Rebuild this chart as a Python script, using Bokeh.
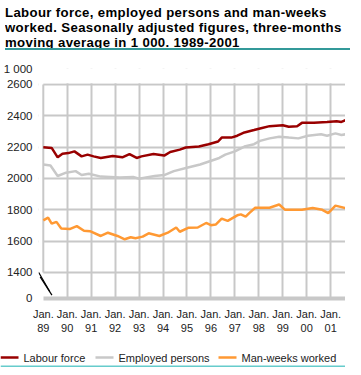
from bokeh.plotting import figure
from bokeh.models import FixedTicker, Div, Range1d
from bokeh.core.properties import value
from bokeh.layouts import column
from bokeh.embed import file_html
from bokeh.resources import INLINE

# ---- data (thousands), x in decimal years ----
lf_x = [1989.0, 1989.35, 1989.6, 1989.8, 1990.05, 1990.3, 1990.6, 1990.85, 1991.1, 1991.4,
        1991.9, 1992.3, 1992.6, 1992.9, 1993.1, 1993.6, 1994.05, 1994.3, 1994.7, 1994.95,
        1995.5, 1995.9, 1996.3, 1996.45, 1996.85, 1997.1, 1997.4, 1997.8, 1998.05, 1998.45,
        1999.0, 1999.25, 1999.6, 1999.8, 2000.3, 2000.85, 2001.25, 2001.45, 2001.62]
lf_y = [2200, 2195, 2135, 2158, 2162, 2173, 2141, 2152, 2141, 2131,
        2143, 2135, 2156, 2131, 2141, 2156, 2146, 2169, 2184, 2198,
        2204, 2219, 2236, 2261, 2261, 2273, 2294, 2309, 2319, 2334,
        2340, 2330, 2334, 2355, 2355, 2361, 2366, 2361, 2372]

ep_x = [1989.0, 1989.3, 1989.6, 1989.95, 1990.35, 1990.6, 1990.9, 1991.4, 1992.2, 1992.75,
        1993.0, 1993.65, 1994.05, 1994.45, 1995.0, 1995.55, 1995.95, 1996.35, 1996.6, 1997.0,
        1997.4, 1997.8, 1998.05, 1998.45, 1998.85, 1999.25, 1999.65, 2000.05, 2000.6, 2000.85,
        2001.2, 2001.45, 2001.62]
ep_y = [2089, 2083, 2016, 2037, 2047, 2022, 2030, 2012, 2006, 2010,
        1998, 2016, 2022, 2047, 2068, 2089, 2110, 2131, 2152, 2173,
        2204, 2219, 2240, 2256, 2267, 2261, 2256, 2273, 2282, 2273,
        2288, 2278, 2282]

mw_x = [1989.0, 1989.2, 1989.35, 1989.55, 1989.75, 1990.1, 1990.4, 1990.7, 1990.95, 1991.4,
        1991.7, 1992.1, 1992.4, 1992.65, 1992.85, 1993.15, 1993.4, 1993.85, 1994.2, 1994.55,
        1994.7, 1995.05, 1995.45, 1995.8, 1996.0, 1996.2, 1996.45, 1996.7, 1997.1, 1997.25,
        1997.45, 1997.6, 1997.85, 1998.45, 1998.85, 1999.1, 1999.8, 2000.25, 2000.65, 2000.9,
        2001.2, 2001.62]
mw_y = [1733, 1750, 1712, 1723, 1681, 1677, 1696, 1666, 1664, 1633,
        1654, 1633, 1612, 1625, 1618, 1629, 1650, 1633, 1654, 1687,
        1660, 1685, 1687, 1716, 1702, 1706, 1744, 1729, 1765, 1771,
        1756, 1779, 1813, 1813, 1834, 1800, 1800, 1811, 1800, 1779,
        1827, 1811]

years = list(range(1989, 2002))
year_labels = ["Jan.\n" + str(y)[2:] for y in years]
grid_ticks = [1400, 1600, 1800, 2000, 2200, 2400, 2600]
zero_pos = 1240          # where the broken axis shows its "0"
unit_pos = 2700          # where the "1 000" unit label sits
series_names = ["Labour force", "Employed persons", "Man-weeks worked"]
series_x = [lf_x, ep_x, mw_x]
series_y = [lf_y, ep_y, mw_y]
colors = ["#990000", "#c8c8c8", "#ff9933"]

title_lines = ["Labour force, employed persons and man-weeks",
               "worked. Seasonally adjusted figures, three-months",
               "moving average in 1 000. 1989-2001"]

FONT = "Liberation Sans"
GRID = "#c8c8c8"
TXT = "#222222"
X0, X1 = 1988.80, 2001.62
Y0, Y1 = 1234, 2702

title_html = ('<div style="font-family:\'Liberation Sans\',Arial,sans-serif;font-weight:bold;'
              'font-size:13.2px;letter-spacing:0.35px;line-height:15px;color:#000;margin:0;'
              'padding:0;width:345px;height:45px;border-bottom:2px solid #339999;'
              'white-space:nowrap;overflow:hidden">'
              + "<br>".join(title_lines) + '</div>')
title = Div(text=title_html, width=345, height=47)

p = figure(width=345, height=288, x_range=Range1d(X0, X1), y_range=Range1d(Y0, Y1),
           output_backend="svg", toolbar_location=None,
           min_border_top=11, min_border_left=0, min_border_right=0, min_border_bottom=47)
p.outline_line_color = None
p.frame_align = False

# y axis: tick labels only (axis line drawn separately because of the break)
p.yaxis.ticker = FixedTicker(ticks=[zero_pos] + grid_ticks + [unit_pos])
p.yaxis.major_label_overrides = {zero_pos: "0", unit_pos: "1 000"}
p.yaxis.axis_line_color = None
p.yaxis.major_tick_line_color = None
p.yaxis.minor_tick_line_color = None
p.yaxis.major_label_standoff = 0
p.yaxis.major_label_text_font = FONT
p.yaxis.major_label_text_font_size = "11.5px"
p.yaxis.major_label_text_color = TXT

p.xaxis.ticker = FixedTicker(ticks=years)
p.xaxis.major_label_overrides = {y: l for y, l in zip(years, year_labels)}
p.xaxis.bounds = (1989, X1)
p.xaxis.axis_line_color = GRID
p.xaxis.axis_line_width = 4
p.xaxis.major_tick_line_color = None
p.xaxis.minor_tick_line_color = None
p.xaxis.major_label_standoff = 3
p.xaxis.major_label_text_font = FONT
p.xaxis.major_label_text_font_size = "11px"
p.xaxis.major_label_text_color = TXT

p.xgrid.ticker = FixedTicker(ticks=years[1:])
p.xgrid.grid_line_color = GRID
p.xgrid.grid_line_width = 2
p.ygrid.ticker = FixedTicker(ticks=grid_ticks)
p.ygrid.grid_line_color = GRID
p.ygrid.grid_line_width = 2

# blank strips (left of the axis, above the top gridline), axis line and break marks
p.quad(left=[X0, X0], right=[1989, X1], bottom=[Y0, 2608], top=[Y1, Y1],
       fill_color="white", line_color=None)
p.segment(x0=[1989], y0=[1400], x1=[1989], y1=[2600], line_color=GRID, line_width=2)
p.segment(x0=[1988.81, 1988.87], y0=[1400, 1372], x1=[1989.27, 1989.36], y1=[1279, 1256],
          line_color="black", line_width=1.2)

for sx, sy, c in zip(series_x, series_y, colors):
    p.line(sx, sy, line_color=c, line_width=2.5)

# legend strip: a small pixel-scaled figure with key swatches and labels, teal rule below
key_left = [0, 95, 218]          # left edge of each key swatch in the strip (px)
lg = figure(width=345, height=22, x_range=Range1d(0, 345), y_range=Range1d(0, 22),
            output_backend="svg", toolbar_location=None,
            x_axis_location=None, y_axis_location=None,
            min_border_top=0, min_border_left=0, min_border_right=0, min_border_bottom=0)
lg.frame_align = False
lg.grid.visible = False
lg.outline_line_color = None
lg.quad(left=[0], right=[345], bottom=[0], top=[2], fill_color="#66cccc", line_color=None)
lg.segment(x0=key_left, y0=[10] * 3, x1=[k + 18 for k in key_left], y1=[10] * 3,
           line_color=colors, line_width=2.5)
lg.text(x=[k + 23 for k in key_left], y=[10] * 3, text=series_names,
        text_font=value(FONT), text_font_size="11px", text_color=TXT,
        text_baseline="middle", text_align="left")

layout = column(title, p, lg, spacing=0)
open("out.html", "w").write(file_html(layout, INLINE))
